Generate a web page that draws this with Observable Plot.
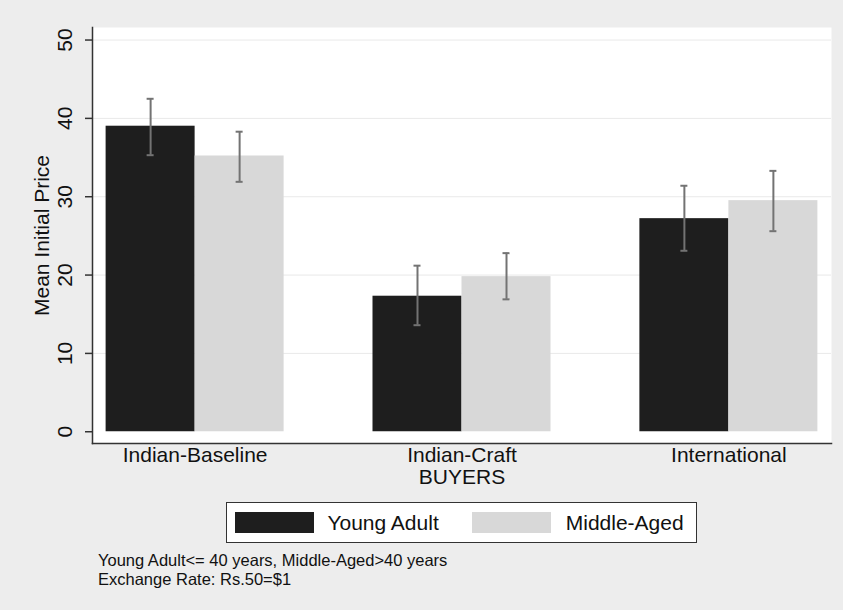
<!DOCTYPE html>
<html>
<head>
<meta charset="utf-8">
<script src="https://cdn.jsdelivr.net/npm/d3@7"></script>
<script src="https://cdn.jsdelivr.net/npm/@observablehq/plot@0.6"></script>
<style>
  html, body { margin: 0; padding: 0; background: #ededed; }
  body { width: 843px; height: 610px; overflow: hidden; font-family: "Liberation Sans", Arial, Helvetica, sans-serif; color: #111; }
  #chart svg { display: block; background: transparent; }
  #legendWrap { display: flex; justify-content: center; padding-left: 92px; padding-right: 12px; margin-top: 7px; }
  #legend { display: flex; align-items: center; background: #fff; border: 1.5px solid #333; height: 39px; padding: 0 12px 0 8px; font-size: 21px; }
  #legend .sw { width: 79px; height: 21px; display: inline-block; }
  #legend .lab { margin-left: 13px; margin-right: 33px; }
  #legend .lab:last-child { margin-right: 0; margin-left: 15px; }
  #caption { margin-left: 98px; margin-top: 8px; font-size: 16.5px; line-height: 19px; }
</style>
</head>
<body>
<div id="chart"></div>
<div id="legendWrap"><div id="legend"></div></div>
<div id="caption"></div>
<script>
// ---- data ----
const buyers = ["Indian-Baseline", "Indian-Craft", "International"];
const groups = ["Young Adult", "Middle-Aged"];
const groupColors = ["#1e1e1e", "#d8d8d8"];
const youngMean = [39.0, 17.3, 27.2];
const youngLow  = [35.3, 13.6, 23.1];
const youngHigh = [42.5, 21.2, 31.4];
const middleMean = [35.2, 19.8, 29.5];
const middleLow  = [31.9, 16.9, 25.6];
const middleHigh = [38.3, 22.8, 33.3];
const yTicks = [0, 10, 20, 30, 40, 50];
const yLabel = "Mean Initial Price";
const xLabel = "BUYERS";
const captionLines = ["Young Adult<= 40 years, Middle-Aged>40 years", "Exchange Rate: Rs.50=$1"];

// ---- tables ----
const young = buyers.map((b, i) => ({buyer: b, group: groups[0], mean: youngMean[i], lo: youngLow[i], hi: youngHigh[i]}));
const middle = buyers.map((b, i) => ({buyer: b, group: groups[1], mean: middleMean[i], lo: middleLow[i], hi: middleHigh[i]}));

// ---- layout ----
const W = 843, H = 495, ML = 92, MR = 12, MT = 27, MB = 52;
const padIn = 0.333, padOut = 0.051;
const step = (W - ML - MR) / (buyers.length - padIn + 2 * padOut);
const bw = step * (1 - padIn);   // band (group) width
const half = bw / 2;             // one bar
const capHalf = 3.5;
const errStyle = {stroke: "#737373", strokeWidth: 2};

function groupMarks(data, side) { // side: -1 left bar, +1 right bar
  const inset = side < 0 ? {insetRight: half} : {insetLeft: half};
  const shift = side * half / 2;
  return [
    Plot.barY(data, {x: "buyer", y: "mean", fill: "group", ...inset}),
    Plot.ruleX(data, {x: "buyer", y1: "lo", y2: "hi", dx: shift, ...errStyle}),
    Plot.tickY(data, {x: "buyer", y: "hi", dx: shift, insetLeft: half - capHalf, insetRight: half - capHalf, ...errStyle}),
    Plot.tickY(data, {x: "buyer", y: "lo", dx: shift, insetLeft: half - capHalf, insetRight: half - capHalf, ...errStyle})
  ];
}

const chart = Plot.plot({
  width: W,
  height: H,
  marginLeft: ML,
  marginRight: MR,
  marginTop: MT,
  marginBottom: MB,
  style: {fontFamily: "'Liberation Sans', Arial, Helvetica, sans-serif", fontSize: "21px", color: "#111", background: "transparent"},
  x: {domain: buyers, paddingInner: padIn, paddingOuter: padOut, round: false, axis: null},
  y: {domain: [-1.5, 51.6], axis: null},
  color: {domain: groups, range: groupColors},
  marks: [
    Plot.frame({fill: "white", stroke: null}),
    Plot.gridY(yTicks.slice(1), {stroke: "#e9e9e9", strokeOpacity: 1, strokeWidth: 1}),
    ...groupMarks(young, -1),
    ...groupMarks(middle, +1),
    Plot.axisY(yTicks, {anchor: "left", tickSize: 7, tickPadding: 14, tickRotate: -90, fontSize: 21,
      label: null, stroke: "#333", strokeWidth: 1.5}),
    Plot.axisY({anchor: "left", ticks: [], tickSize: 0, fontSize: 21,
      label: yLabel, labelArrow: "none", labelAnchor: "center", labelOffset: 58}),
    Plot.axisX({anchor: "bottom", tickSize: 0, tickPadding: 4, fontSize: 21, label: xLabel, labelArrow: "none", labelAnchor: "center", labelOffset: 40}),
    Plot.frame({anchor: "left", stroke: "#333", strokeWidth: 1.5}),
    Plot.frame({anchor: "bottom", stroke: "#333", strokeWidth: 1.5})
  ]
});
document.getElementById("chart").appendChild(chart);

// ---- legend ----
const legend = document.getElementById("legend");
groups.forEach((g, i) => {
  const sw = document.createElement("span");
  sw.className = "sw";
  sw.style.background = groupColors[i];
  legend.appendChild(sw);
  const lab = document.createElement("span");
  lab.className = "lab";
  lab.textContent = g;
  legend.appendChild(lab);
});

// ---- caption ----
document.getElementById("caption").innerHTML = captionLines.map(s => `<div>${s}</div>`).join("");
</script>
</body>
</html>
